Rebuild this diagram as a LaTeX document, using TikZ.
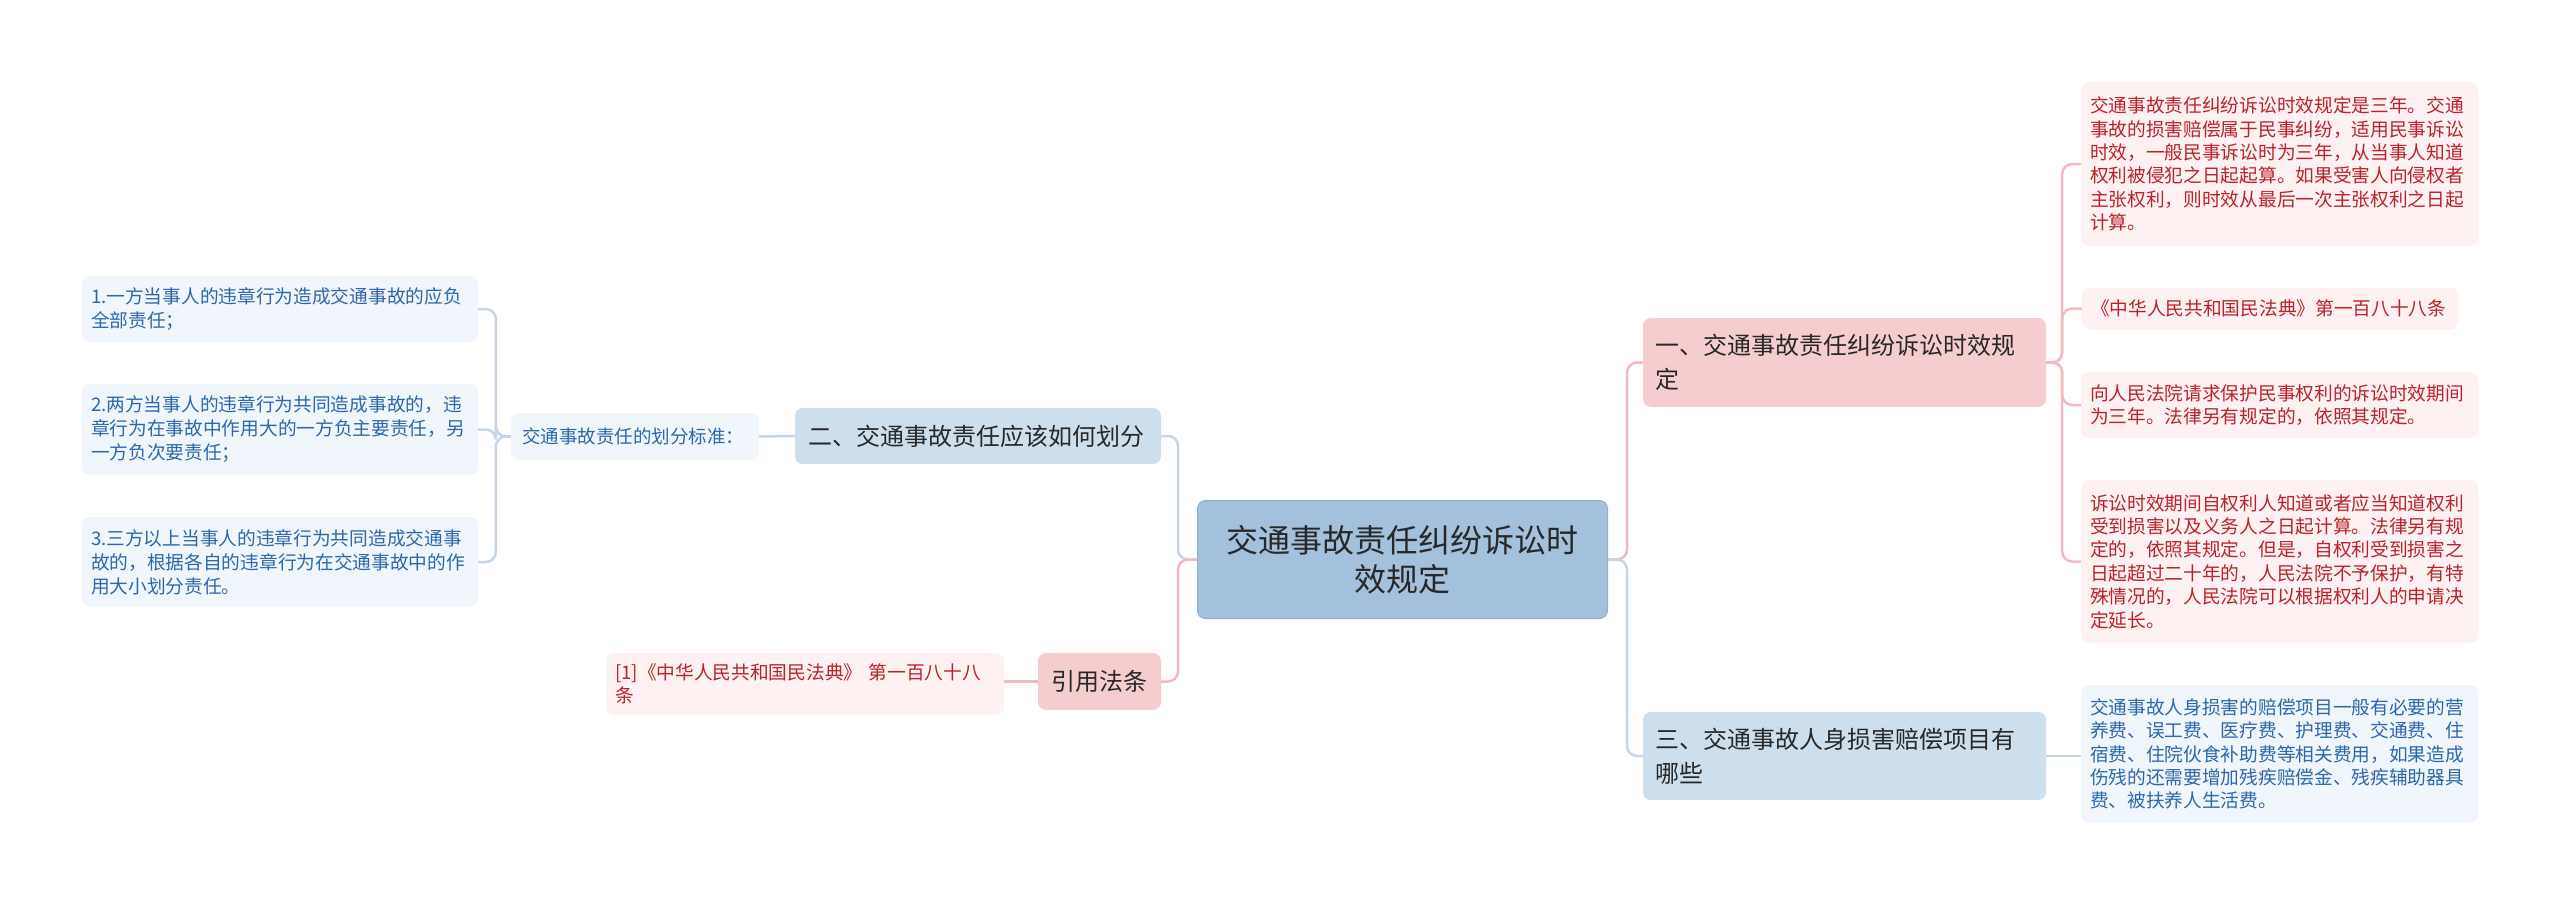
\documentclass[tikz,border=0pt]{standalone}
\usepackage{fontspec}
\newfontfamily\cjk{Noto Sans CJK SC}
\definecolor{rootfill}{RGB}{163,192,220}
\definecolor{rootdraw}{RGB}{146,176,206}
\definecolor{pinkfill}{RGB}{246,205,207}
\definecolor{bluefill}{RGB}{205,222,237}
\definecolor{pinkleaf}{RGB}{253,241,242}
\definecolor{blueleaf}{RGB}{241,246,252}
\definecolor{redtext}{RGB}{186,35,42}
\definecolor{bluetext}{RGB}{46,104,170}
\definecolor{darktext}{RGB}{40,40,40}
\definecolor{pinkline}{RGB}{240,187,192}
\definecolor{blueline}{RGB}{198,214,232}
\tikzset{
  base/.style={rounded corners=8pt, inner ysep=0pt, anchor=center},
  rootbox/.style={base, fill=rootfill, draw=rootdraw, line width=1pt, align=center,
     text=darktext, font=\cjk\fontsize{32}{39}\selectfont},
  pinkmain/.style={base, fill=pinkfill, align=left, text=darktext,
     font=\cjk\fontsize{24}{34}\selectfont},
  bluemain/.style={base, fill=bluefill, align=left, text=darktext,
     font=\cjk\fontsize{24}{34}\selectfont},
  pinkitem/.style={base, fill=pinkleaf, align=left, text=redtext,
     font=\cjk\fontsize{18.7}{23.4}\selectfont},
  blueitem/.style={base, fill=blueleaf, align=left, text=bluetext,
     font=\cjk\fontsize{18.7}{24}\selectfont},
  pconn/.style={draw=pinkline, line width=2.5pt, rounded corners=10pt},
  bconn/.style={draw=blueline, line width=2.5pt, rounded corners=10pt},
}
\begin{document}
\begin{tikzpicture}[x=1pt,y=-1pt]
\useasboundingbox (0,0) rectangle (2560,907);
% root
\node[rootbox, minimum width=410pt, minimum height=118pt, text width=390pt] (root) at (1402.5,559.5)
  {交通事故责任纠纷诉讼时\\效规定};
% level 1
\node[pinkmain, minimum width=403pt, minimum height=89pt, text width=379pt, inner xsep=12pt] (n1) at (1844.5,362.5)
  {一、交通事故责任纠纷诉讼时效规\\定};
\node[bluemain, minimum width=403pt, minimum height=88pt, text width=379pt, inner xsep=12pt] (n3) at (1844.5,756)
  {三、交通事故人身损害赔偿项目有\\哪些};
\node[bluemain, minimum width=366pt, minimum height=56pt, text width=340pt, inner xsep=13pt] (n2) at (978,436)
  {二、交通事故责任应该如何划分};
\node[pinkmain, minimum width=123pt, minimum height=57pt, text width=97pt, inner xsep=13pt] (cite) at (1099.5,681.5)
  {引用法条};
% level 2 left
\node[blueitem, minimum width=248pt, minimum height=47pt, text width=226pt, inner xsep=11pt,
      font=\cjk\fontsize{18.5}{23}\selectfont] (std) at (635,436.5)
  {交通事故责任的划分标准：};
\node[blueitem, minimum width=396pt, minimum height=66pt, text width=378pt, inner xsep=9pt] (L1) at (280,309)
  {1.一方当事人的违章行为造成交通事故的应负\\全部责任；};
\node[blueitem, minimum width=396pt, minimum height=91pt, text width=378pt, inner xsep=9pt] (L2) at (280,429.5)
  {2.两方当事人的违章行为共同造成事故的，违\\章行为在事故中作用大的一方负主要责任，另\\一方负次要责任；};
\node[blueitem, minimum width=396pt, minimum height=90pt, text width=378pt, inner xsep=9pt] (L3) at (280,562)
  {3.三方以上当事人的违章行为共同造成交通事\\故的，根据各自的违章行为在交通事故中的作\\用大小划分责任。};
\node[pinkitem, minimum width=398pt, minimum height=62pt, text width=380pt, inner xsep=9pt] (cite1) at (805,684)
  {[1]《中华人民共和国民法典》 第一百八十八\\条};
% right items
\node[pinkitem, minimum width=397pt, minimum height=164pt, text width=379pt, inner xsep=9pt] (R1) at (2279.5,164)
  {交通事故责任纠纷诉讼时效规定是三年。交通\\事故的损害赔偿属于民事纠纷，适用民事诉讼\\时效，一般民事诉讼时为三年，从当事人知道\\权利被侵犯之日起起算。如果受害人向侵权者\\主张权利，则时效从最后一次主张权利之日起\\计算。};
\node[pinkitem, minimum width=376pt, minimum height=42pt, text width=358pt, inner xsep=9pt] (R2) at (2270,308.5)
  {《中华人民共和国民法典》第一百八十八条};
\node[pinkitem, minimum width=397pt, minimum height=66pt, text width=379pt, inner xsep=9pt] (R3) at (2279.5,405)
  {向人民法院请求保护民事权利的诉讼时效期间\\为三年。法律另有规定的，依照其规定。};
\node[pinkitem, minimum width=397pt, minimum height=163pt, text width=379pt, inner xsep=9pt] (R4) at (2279.5,561.5)
  {诉讼时效期间自权利人知道或者应当知道权利\\受到损害以及义务人之日起计算。法律另有规\\定的，依照其规定。但是，自权利受到损害之\\日起超过二十年的，人民法院不予保护，有特\\殊情况的，人民法院可以根据权利人的申请决\\定延长。};
\node[blueitem, minimum width=397pt, minimum height=138pt, text width=379pt, inner xsep=9pt,
      font=\cjk\fontsize{18.7}{23.4}\selectfont] (R5) at (2279.5,754)
  {交通事故人身损害的赔偿项目一般有必要的营\\养费、误工费、医疗费、护理费、交通费、住\\宿费、住院伙食补助费等相关费用，如果造成\\伤残的还需要增加残疾赔偿金、残疾辅助器具\\费、被扶养人生活费。};
% connectors (drawn behind nodes visually fine since they end at borders)
\begin{scope}[on background layer/.style={}]
\draw[bconn] (root.west) -- ++(-19,0) |- (n2.east);
\draw[pconn] (root.west) -- ++(-19,0) |- (cite.east);
\draw[pconn] (root.east) -- ++(19,0) |- (n1.west);
\draw[bconn] (root.east) -- ++(19,0) |- (n3.west);
\draw[pconn] (n1.east) -- ++(16,0) |- (R1.west);
\draw[pconn] (n1.east) -- ++(16,0) |- (R2.west);
\draw[pconn] (n1.east) -- ++(16,0) |- (R3.west);
\draw[pconn] (n1.east) -- ++(16,0) |- (R4.west);
\draw[bconn] (n3.east) -- (n3.east -| R5.west);
\draw[bconn] (n2.west) -- (std.east);
\draw[bconn] (std.west) -- ++(-15,0) |- (L1.east);
\draw[bconn] (std.west) -- ++(-15,0) |- (L2.east);
\draw[bconn] (std.west) -- ++(-15,0) |- (L3.east);
\draw[pconn] (cite.west) -- (cite.west -| cite1.east);
\end{scope}
\end{tikzpicture}
\end{document}
